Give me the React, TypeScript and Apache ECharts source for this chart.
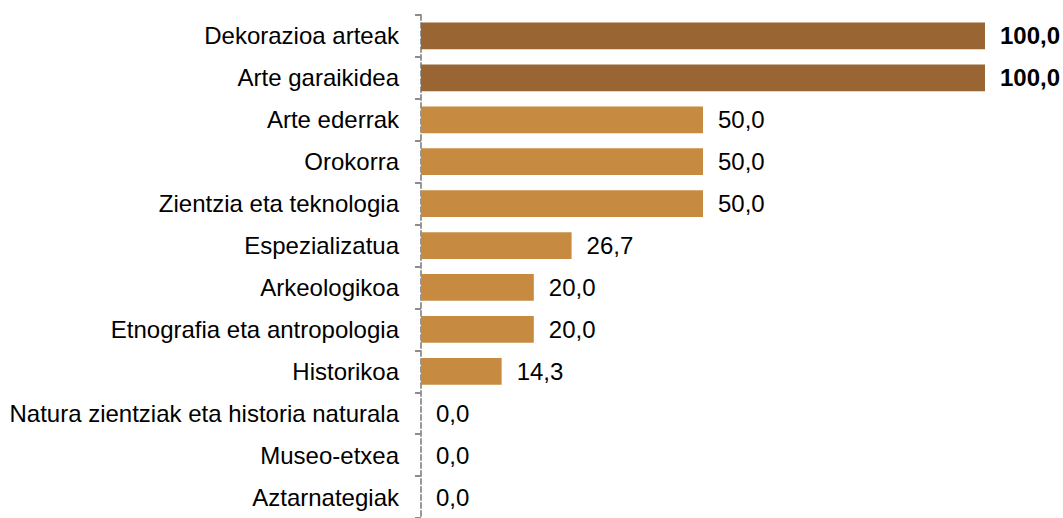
import React, { useEffect, useRef } from "react";
import * as echarts from "echarts";

const categories = [
  "Dekorazioa arteak",
  "Arte garaikidea",
  "Arte ederrak",
  "Orokorra",
  "Zientzia eta teknologia",
  "Espezializatua",
  "Arkeologikoa",
  "Etnografia eta antropologia",
  "Historikoa",
  "Natura zientziak eta historia naturala",
  "Museo-etxea",
  "Aztarnategiak",
];
const values = [100, 100, 50, 50, 50, 26.7, 20, 20, 14.3, 0, 0, 0];
const highlighted = [true, true, false, false, false, false, false, false, false, false, false, false];

const DARK = "#996633";
const LIGHT = "#C68B41";

export default function App() {
  const ref = useRef<HTMLDivElement>(null);
  useEffect(() => {
    if (!ref.current) return;
    const chart = echarts.init(ref.current, undefined, { renderer: "svg" });
    const font = "'Liberation Sans', Arial, sans-serif";
    chart.setOption({
      animation: false,
      grid: { left: 421, right: 78, top: 15, bottom: -7, containLabel: false },
      xAxis: {
        type: "value",
        min: 0,
        max: 100,
        show: false,
      },
      yAxis: {
        type: "category",
        data: categories,
        inverse: true,
        axisLine: {
          show: true,
          lineStyle: { color: "#999999", width: 2, type: [5, 3] },
        },
        axisTick: {
          show: true,
          interval: 0,
          length: 6,
          lineStyle: { color: "#8c8c8c", width: 2, type: "solid" },
        },
        axisLabel: {
          interval: 0,
          margin: 22,
          color: "#000000",
          fontFamily: font,
          fontSize: 24,
        },
        splitLine: { show: false },
      },
      series: [
        {
          type: "bar",
          data: values.map((v, i) => ({
            value: v,
            itemStyle: { color: highlighted[i] ? DARK : LIGHT },
            label: { fontWeight: highlighted[i] ? "bold" : "normal" },
          })),
          barCategoryGap: "36%",
          label: {
            show: true,
            position: "right",
            distance: 15,
            color: "#000000",
            fontFamily: font,
            fontSize: 24,
            formatter: (p: any) => p.value.toFixed(1).replace(".", ","),
          },
        },
      ],
    });
    return () => chart.dispose();
  }, []);
  return (
    <div
      ref={ref}
      style={{ position: "absolute", left: 0, top: 0, width: 1063, height: 518 }}
    />
  );
}
